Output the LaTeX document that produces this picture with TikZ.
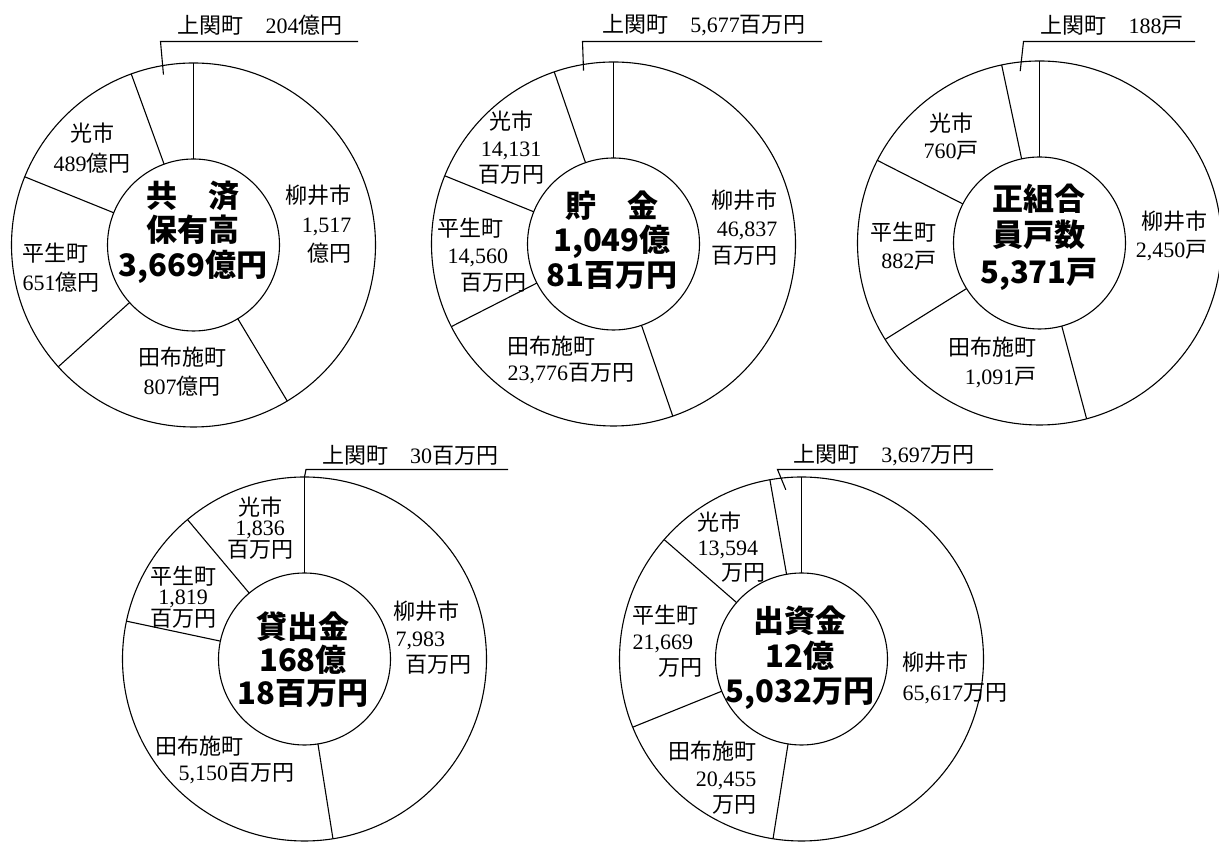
\documentclass[tikz,border=0pt]{standalone}
\usepackage{fontspec}
\setmainfont{Liberation Serif}
\newfontfamily\jp{Noto Sans CJK JP}
\newcommand{\kj}[1]{{\jp #1}}

\begin{document}
\begin{tikzpicture}[x=1pt,y=1pt,line width=1.1pt,
  rim/.style={draw,circle,minimum size=364pt,inner sep=0pt,outer sep=0pt},
  hub/.style={draw,circle,minimum size=172pt,inner sep=0pt,outer sep=0pt},
  title/.style={font={\jp\bfseries\fontsize{31}{#1}\selectfont},align=center,inner sep=0pt},
  title/.default=34.5,
  town/.style={font={\fontsize{22}{#1}\selectfont},inner sep=0pt},
  town/.default=28]
\useasboundingbox (0,0) rectangle (1219,843);
%
% chart 1
\node [rim] (r1) at (193.5,598) {};
\node [hub] (h1) at (r1) {};
\node [title] (t1) at (193,611) {共　済\\保有高\\3,669億円};
\draw (h1.90) -- (r1.90);
\draw (h1.301.2) -- (r1.301.2);
\draw (h1.222) -- (r1.222);
\draw (h1.158.1) -- (r1.158.1);
\draw (h1.110.1) -- (r1.110.1);
\coordinate (p1) at ([shift={(100:173)}]r1.center);
\coordinate (q1) at (160.5,801.5);
\coordinate (e1) at (358,801.5);
\draw (p1) -- (q1) -- (e1);
\node [town] (k1) at (260,818) {\kj{上関町　}204\kj{億円}};
\node [town=30,align=center] (g1) at (92,695) {\kj{光市}\\489\kj{億円}};
\node [town=29,align=left,anchor=west] (s1) at (22,575) {\kj{平生町}\\651\kj{億円}};
\node [town=29,align=center] (d1) at (182,471) {\kj{田布施町}\\807\kj{億円}};
\node [town=29,align=right,anchor=east] (y1) at (352,619) {\kj{柳井市}\\1,517\\\kj{億円}};
%
% chart 2
\node [rim] (r2) at (613.5,599) {};
\node [hub] (h2) at (r2) {};
\node [title] (t2) at (612,603) {貯　金\\1,049億\\81百万円};
\draw (h2.90) -- (r2.90);
\draw (h2.289.4) -- (r2.289.4);
\draw (h2.207.9) -- (r2.207.9);
\draw (h2.158) -- (r2.158);
\draw (h2.109.5) -- (r2.109.5);
\coordinate (p2) at ([shift={(99.8:176)}]r2.center);
\coordinate (q2) at (582.5,801.5);
\coordinate (e2) at (822,801.5);
\draw (p2) -- (q2) -- (e2);
\node [town] (k2) at (704,818) {\kj{上関町　}5,677\kj{百万円}};
\node [town=26.5,align=center] (g2) at (511,695) {\kj{光市}\\14,131\\\kj{百万円}};
\node [town=27,align=left,anchor=west] (s2) at (437,588) {\kj{平生町}\\\hspace*{10pt}14,560\\\hspace*{23pt}\kj{百万円}};
\node [town=26,align=left,anchor=west] (d2) at (507,483) {\kj{田布施町}\\23,776\kj{百万円}};
\node [town=27.5,align=right,anchor=east] (y2) at (778,615) {\kj{柳井市}\\46,837\\\kj{百万円}};
%
% chart 3
\node [rim] (r3) at (1039.5,600) {};
\node [hub] (h3) at (r3) {};
\node [title=36.5] (t3) at (1039,606) {正組合\\員戸数\\5,371戸};
\draw (h3.90) -- (r3.90);
\draw (h3.285.8) -- (r3.285.8);
\draw (h3.212.7) -- (r3.212.7);
\draw (h3.153.6) -- (r3.153.6);
\draw (h3.102.7) -- (r3.102.7);
\coordinate (p3) at ([shift={(96.4:173)}]r3.center);
\coordinate (q3) at (1023.5,801.5);
\coordinate (e3) at (1195,801.5);
\draw (p3) -- (q3) -- (e3);
\node [town] (k3) at (1112,818) {\kj{上関町　}188\kj{戸}};
\node [town=27,align=center] (g3) at (951,706) {\kj{光市}\\760\kj{戸}};
\node [town=28,align=right,anchor=east] (s3) at (937,597) {\kj{平生町}\\882\kj{戸}};
\node [town=29,align=right,anchor=east] (d3) at (1037,481) {\kj{田布施町}\\1,091\kj{戸}};
\node [town=28,align=right,anchor=east] (y3) at (1208,607) {\kj{柳井市}\\2,450\kj{戸}};
%
% chart 4
\node [rim] (r4) at (304.5,184) {};
\node [hub] (h4) at (r4) {};
\node [title=33] (t4) at (303,183) {貸出金\\168億\\18百万円};
\draw (h4.90) -- (r4.90);
\draw (h4.279.1) -- (r4.279.1);
\draw (h4.168.9) -- (r4.168.9);
\draw (h4.130) -- (r4.130);
\draw (h4.90.7) -- (r4.90.7);
\coordinate (p4) at (r4.90.35);
\coordinate (q4) at (306,373.5);
\coordinate (e4) at (508,373.5);
\draw (p4) -- (q4) -- (e4);
\node [town] (k4) at (410,388) {\kj{上関町　}30\kj{百万円}};
\node [town=20.5,align=center] (g4) at (260,315) {\kj{光市}\\1,836\\\kj{百万円}};
\node [town=20.5,align=center] (s4) at (183,246) {\kj{平生町}\\1,819\\\kj{百万円}};
\node [town=26,align=left,anchor=west] (d4) at (155,83) {\kj{田布施町}\\\hspace*{23pt}5,150\kj{百万円}};
\node [town=26.5,align=left,anchor=west] (y4) at (393,205) {\kj{柳井市}\\\hspace*{2pt}7,983\\\hspace*{12pt}\kj{百万円}};
%
% chart 5
\node [rim] (r5) at (801.5,184) {};
\node [hub] (h5) at (r5) {};
\node [title=35] (t5) at (800,185) {出資金\\12億\\5,032万円};
\draw (h5.90) -- (r5.90);
\draw (h5.261.1) -- (r5.261.1);
\draw (h5.202.2) -- (r5.202.2);
\draw (h5.139.8) -- (r5.139.8);
\draw (h5.100.7) -- (r5.100.7);
\coordinate (p5) at ([shift={(95.3:170)}]r5.center);
\coordinate (q5) at (777.5,373.5);
\coordinate (e5) at (993,373.5);
\draw (p5) -- (q5) -- (e5);
\node [town] (k5) at (884,388) {\kj{上関町　}3,697\kj{万円}};
\node [town=25,align=left,anchor=west] (g5) at (697,296) {\kj{光市}\\13,594\\\hspace*{24pt}\kj{万円}};
\node [town=26,align=left,anchor=west] (s5) at (632,202) {\kj{平生町}\\21,669\\\hspace*{26pt}\kj{万円}};
\node [town=26.5,align=right,anchor=east] (d5) at (757,65) {\kj{田布施町}\\20,455\\\kj{万円}};
\node [town=30,align=left,anchor=west] (y5) at (902,165) {\kj{柳井市}\\65,617\kj{万円}};
\end{tikzpicture}
\end{document}
